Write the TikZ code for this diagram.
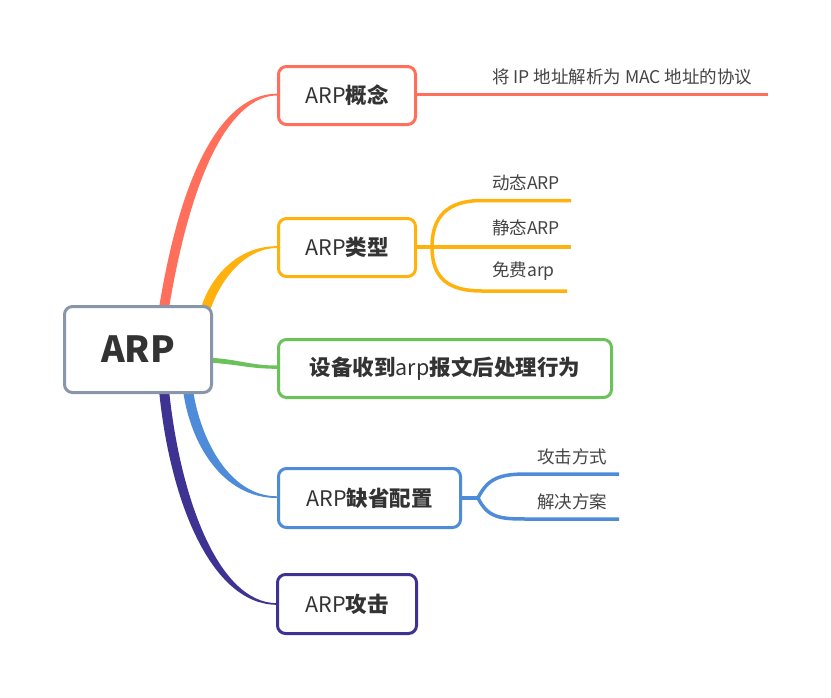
\documentclass[tikz,border=0pt]{standalone}
\usepackage{fontspec}
\setmainfont{Noto Sans CJK SC}
\usetikzlibrary{calc}
\definecolor{cred}{HTML}{FF6F5C}
\definecolor{corange}{HTML}{FFB20E}
\definecolor{cgreen}{HTML}{6CC25A}
\definecolor{cblue}{HTML}{4E8BD8}
\definecolor{cpurple}{HTML}{3E3393}
\definecolor{cgray}{HTML}{8996A9}
\definecolor{txtdark}{HTML}{333333}
\definecolor{txtleaf}{HTML}{444444}
\newcommand{\lat}[1]{{\mdseries #1}}
\begin{document}
\begin{tikzpicture}[x=1pt,y=-1pt,
  box/.style={draw, line width=3pt, rounded corners=8pt, fill=white, inner sep=0pt,
    font=\bfseries\fontsize{21.5}{24}\selectfont, text=txtdark},
  leaf/.style={anchor=west, inner sep=0pt, font=\fontsize{17.5}{20}\selectfont, text=txtleaf},
  branch/.style={line width=3.5pt}]
\useasboundingbox (0,0) rectangle (831,697);

% tapered main connectors (drawn under the nodes)
\fill[cred] (159,308) .. controls (185,148) and (232,93.7) .. (277,93.7)
  -- (277,95.5) .. controls (238,95.8) and (195,152) .. (169,308) -- cycle;
\fill[corange] (201,308) .. controls (210,278) and (237,245.8) .. (277,246.2)
  -- (277,248) .. controls (243,248.5) and (220,282) .. (211,308) -- cycle;
\fill[cgreen] (208,357.5) .. controls (240,359.5) and (250,365.5) .. (277,365.5)
  -- (277,368.8) .. controls (250,368.8) and (240,364.5) .. (208,362.5) -- cycle;
\fill[cblue] (183,390) .. controls (190,443) and (222,498) .. (277,498)
  -- (277,496.3) .. controls (228,496) and (200,437) .. (193,390) -- cycle;
\fill[cpurple] (159,390) .. controls (170,503) and (212,604.8) .. (277,604.8)
  -- (277,603.2) .. controls (218,603) and (180,497) .. (169,390) -- cycle;

% nodes
\node[box, draw=cgray, minimum width=147pt, minimum height=86pt,
  font=\bfseries\fontsize{36}{40}\selectfont] (root) at (138,349.5) {ARP};
\node[box, draw=cred, minimum width=137pt, minimum height=58pt] (c1) at (347,95.5) {\lat{ARP}概念};
\node[box, draw=corange, minimum width=137pt, minimum height=58pt] (c2) at (347,247.5) {\lat{ARP}类型};
\node[box, draw=cgreen, minimum width=333pt, minimum height=58pt] (c3) at (445,368.5) {设备收到\lat{arp}报文后处理行为};
\node[box, draw=cblue, minimum width=182pt, minimum height=59pt] (c4) at (369.5,498) {\lat{ARP}缺省配置};
\node[box, draw=cpurple, minimum width=139pt, minimum height=59pt] (c5) at (347,604) {\lat{ARP}攻击};

% leaves
\node[leaf] (l1) at (492,77) {将 IP 地址解析为 MAC 地址的协议};
\node[leaf] (l21) at (492,183) {动态ARP};
\node[leaf] (l22) at (492,228) {静态ARP};
\node[leaf] (l23) at (492,271) {免费arp};
\node[leaf] (l41) at (537,457) {攻击方式};
\node[leaf] (l42) at (537,502) {解决方案};

% branch connectors
\coordinate (e1) at (768,94.5);
\draw[branch, cred] (c1.east |- e1) -- (e1);

\coordinate (b2) at (432,247);
\coordinate (e21) at (571,200.5);
\coordinate (e22) at (571,247);
\coordinate (e23) at (567,291);
\draw[branch, corange] (c2.east |- b2) -- (b2) -- (e22);
\draw[branch, corange] (b2) .. controls (432,216) and (448,200.5) .. (482,200.5) -- (e21);
\draw[branch, corange] (b2) .. controls (432,278) and (448,291) .. (482,291) -- (e23);

\coordinate (b4) at (478,498);
\coordinate (e41) at (619,474);
\coordinate (e42) at (619,519);
\draw[branch, cblue] (c4.east) -- (b4);
\draw[branch, cblue] (b4) .. controls (488,478) and (500,474) .. (527,474) -- (e41);
\draw[branch, cblue] (b4) .. controls (488,518) and (500,519) .. (527,519) -- (e42);
\end{tikzpicture}
\end{document}
